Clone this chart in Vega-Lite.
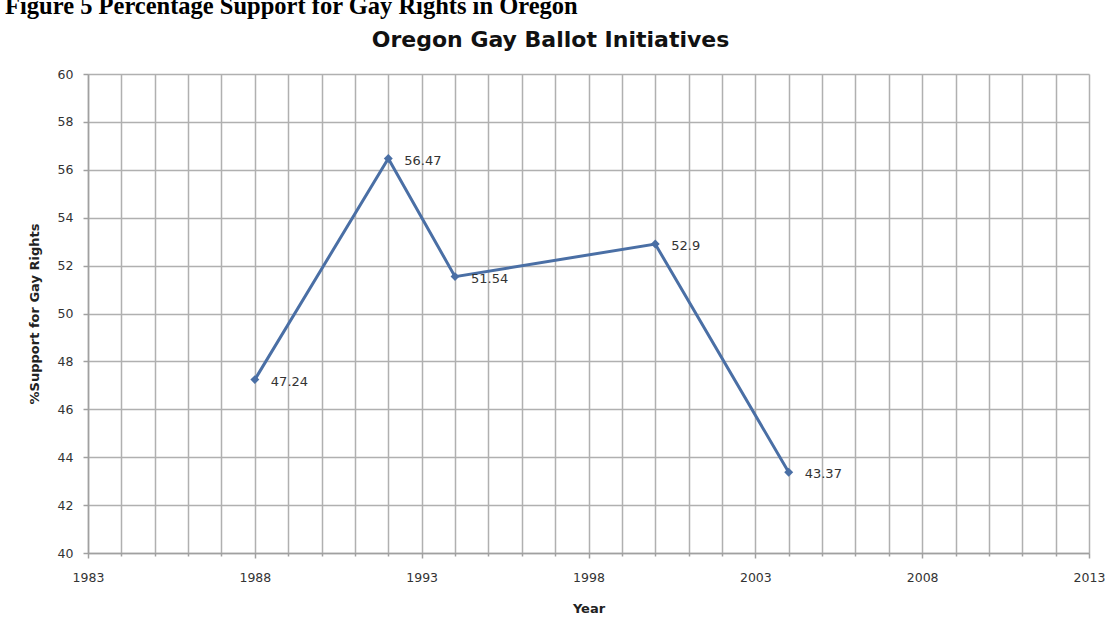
{
  "$schema": "https://vega.github.io/schema/vega-lite/v6.json",
  "background": "white",
  "padding": {"left": 5, "top": -7, "right": 0, "bottom": 0},
  "title": {
    "text": "Figure 5 Percentage Support for Gay Rights in Oregon",
    "anchor": "start",
    "frame": "bounds",
    "font": "Liberation Serif",
    "fontSize": 24.5,
    "fontWeight": "bold",
    "color": "black",
    "dx": -23,
    "offset": 10
  },
  "config": {
    "view": {"stroke": null},
    "axis": {
      "labelFont": "DejaVu Sans",
      "labelFontSize": 12.5,
      "labelColor": "#333333",
      "titleFont": "DejaVu Sans",
      "titleFontSize": 13,
      "titleFontWeight": "bold",
      "titleColor": "#222222",
      "gridColor": "#b0b0b0",
      "gridWidth": 1.5,
      "gridOpacity": 1,
      "domainColor": "#a0a0a0",
      "domainWidth": 1.5,
      "tickColor": "#a0a0a0",
      "tickWidth": 1.5
    }
  },
  "vconcat": [
    {
      "width": 1001,
      "height": 479,
      "title": {
        "text": "Oregon Gay Ballot Initiatives",
        "font": "DejaVu Sans",
        "fontSize": 22,
        "fontWeight": "bold",
        "color": "#111111",
        "anchor": "middle",
        "frame": "group",
        "dx": -38,
        "offset": 16
      },
      "data": {
        "values": [
          {"year": 1988, "support": 47.24},
          {"year": 1992, "support": 56.47},
          {"year": 1994, "support": 51.54},
          {"year": 2000, "support": 52.9},
          {"year": 2004, "support": 43.37}
        ]
      },
      "encoding": {
        "x": {
          "field": "year",
          "type": "quantitative",
          "scale": {"domain": [1983, 2013], "nice": false, "zero": false},
          "axis": {
            "title": "Year",
            "values": [1983,1984,1985,1986,1987,1988,1989,1990,1991,1992,1993,1994,1995,1996,1997,1998,1999,2000,2001,2002,2003,2004,2005,2006,2007,2008,2009,2010,2011,2012,2013],
            "format": "d",
            "labelFlush": false,
            "labelOverlap": false,
            "labelExpr": "(datum.value - 1983) % 5 == 0 ? datum.label : ''",
            "tickSize": {"condition": {"test": "(datum.value - 1983) % 5 == 0", "value": 5}, "value": 3},
            "labelPadding": 13,
            "titlePadding": 19
          }
        },
        "y": {
          "field": "support",
          "type": "quantitative",
          "scale": {"domain": [40, 60], "nice": false, "zero": false},
          "axis": {
            "title": "%Support for Gay Rights",
            "values": [40,42,44,46,48,50,52,54,56,58,60],
            "tickSize": 5,
            "labelPadding": 10,
            "titlePadding": 16
          }
        }
      },
      "layer": [
        {
          "mark": {"type": "line", "color": "#4a6fa5", "strokeWidth": 3}
        },
        {
          "mark": {"type": "point", "shape": "diamond", "filled": true, "size": 80, "color": "#4a6fa5", "opacity": 1}
        },
        {
          "mark": {"type": "text", "align": "left", "baseline": "middle", "dx": 16, "dy": 2, "font": "DejaVu Sans", "fontSize": 13, "color": "#333333"},
          "encoding": {"text": {"field": "support", "type": "quantitative", "format": ".4~"}}
        }
      ]
    }
  ]
}
